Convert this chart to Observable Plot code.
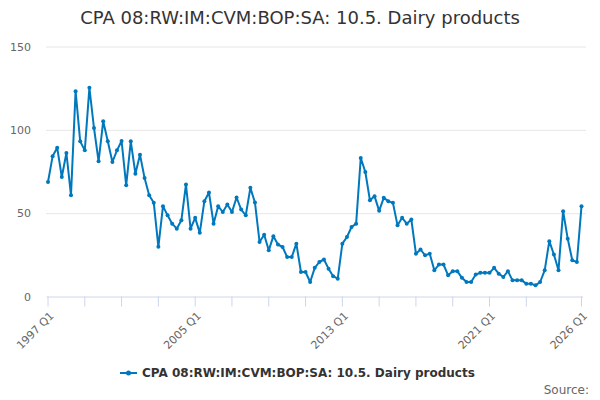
<!DOCTYPE html>
<html>
<head>
<meta charset="utf-8">
<script src="https://cdn.jsdelivr.net/npm/d3@7"></script>
<script src="https://cdn.jsdelivr.net/npm/@observablehq/plot@0.6"></script>
<style>
  html, body { margin: 0; padding: 0; background: #fff; }
  #wrap { position: relative; width: 600px; height: 400px; font-family: "DejaVu Sans", sans-serif; overflow: hidden; }
  #title { position: absolute; left: 0; top: 0; width: 600px; height: 36px; line-height: 36px; text-align: center; font-size: 18px; color: #333; }
  #chart { position: absolute; left: 0; top: 36px; }
  #legend { position: absolute; left: 0; top: 364px; width: 600px; height: 18px; }
  #source { position: absolute; right: 11px; top: 382px; font-size: 12px; color: #666; line-height: 16px; }
</style>
</head>
<body>
<div id="wrap">
  <div id="title"></div>
  <div id="chart"></div>
  <div id="legend"></div>
  <div id="source">Source:</div>
</div>
<script>
const seriesName = "CPA 08:RW:IM:CVM:BOP:SA: 10.5. Dairy products";
const startYear = 1997;
const endYear = 2026;
const values = [
  69, 84.4, 89.6, 72, 86.4, 61, 123.5, 93.4, 88, 125.5,
  101.4, 81.4, 105.4, 93.4, 81, 88, 93.6, 67, 93.4, 74,
  85.4, 71.4, 61, 56.5, 30.1, 54.5, 49, 44, 41, 46,
  67.5, 41, 47.5, 38.5, 57.5, 62.7, 44, 54.5, 51, 55.5,
  51, 59.7, 52.5, 49, 65.5, 56.7, 33, 37.3, 28, 36.5,
  31.5, 30, 24, 24, 32, 15, 15, 9, 17.5, 21,
  22.5, 17, 12.5, 11, 32, 36, 42, 44, 83.4, 75,
  58, 60.5, 51.7, 59.5, 57.5, 56.5, 43, 47.5, 44, 46.5,
  26, 28.5, 25, 26, 16, 19.5, 19.5, 13, 15.5, 15.5,
  11.5, 9, 9, 13.5, 14.5, 14.5, 14.5, 17.5, 14, 12,
  15.5, 10, 10, 10, 8, 8, 7, 9, 16, 33.5,
  25.5, 16, 51.5, 35, 22, 21, 54.5
];
const tickYears = [1997, 1999, 2001, 2003, 2005, 2007, 2009, 2011, 2013, 2015, 2017, 2019, 2021, 2023, 2026];
const labelYears = [1997, 2005, 2013, 2021, 2026];
const yTicks = [0, 50, 100, 150];
const gridValues = [50, 100, 150];

const lineColor = "#0078bd";
const data = values.map((v, i) => ({ t: startYear + i / 4, v }));

document.getElementById("title").textContent = seriesName;

const W = 600, H = 310;
const mL = 47.5, mR = 19, mT = 10.5, mB = 49.5;
const pxPerYear = (W - mL - mR) / (endYear - startYear);

const chart = Plot.plot({
  width: W,
  height: H,
  marginLeft: mL,
  marginRight: mR,
  marginTop: mT,
  marginBottom: mB,
  style: { fontFamily: "DejaVu Sans, sans-serif", fontSize: "11px", background: "#fff", overflow: "visible" },
  x: { type: "linear", domain: [startYear, endYear] },
  y: { domain: [0, 150] },
  marks: [
    Plot.ruleY(gridValues, { x1: startYear - 1.5 / pxPerYear, x2: endYear + 5 / pxPerYear, stroke: "#e6e6e6", strokeWidth: 1 }),
    Plot.ruleY([0], { x1: startYear - 1 / pxPerYear, x2: endYear + 2 / pxPerYear, stroke: "#ccd6eb", strokeWidth: 1 }),
    Plot.axisX({ ticks: tickYears, tickSize: 10, tickFormat: () => "", stroke: "#ccd6eb", strokeOpacity: 1, label: null }),
    Plot.axisX({ ticks: labelYears, tickSize: 0, tickPadding: 12, dx: 4, dy: 5, tickRotate: -45, tickFormat: d => `${d} Q1`, fill: "#666", fontSize: 11, label: null }),
    Plot.axisY({ ticks: yTicks, tickSize: 0, tickPadding: 17, fill: "#666", fontSize: 11, label: null }),
    Plot.line(data, { x: "t", y: "v", stroke: lineColor, strokeWidth: 2, curve: "linear" }),
    Plot.dot(data, { x: "t", y: "v", r: 2, fill: lineColor, stroke: null })
  ]
});
document.getElementById("chart").appendChild(chart);

// legend
const legend = d3.select("#legend").append("svg").attr("width", 600).attr("height", 18);
legend.append("line").attr("x1", 120).attr("x2", 137).attr("y1", 9).attr("y2", 9)
  .attr("stroke", lineColor).attr("stroke-width", 2);
legend.append("circle").attr("cx", 128.5).attr("cy", 9).attr("r", 2.5).attr("fill", lineColor);
legend.append("text").attr("x", 142).attr("y", 9).attr("dy", "0.35em")
  .attr("font-family", "DejaVu Sans, sans-serif").attr("font-size", 12).attr("font-weight", "bold")
  .attr("fill", "#333").text(seriesName);
</script>
</body>
</html>
